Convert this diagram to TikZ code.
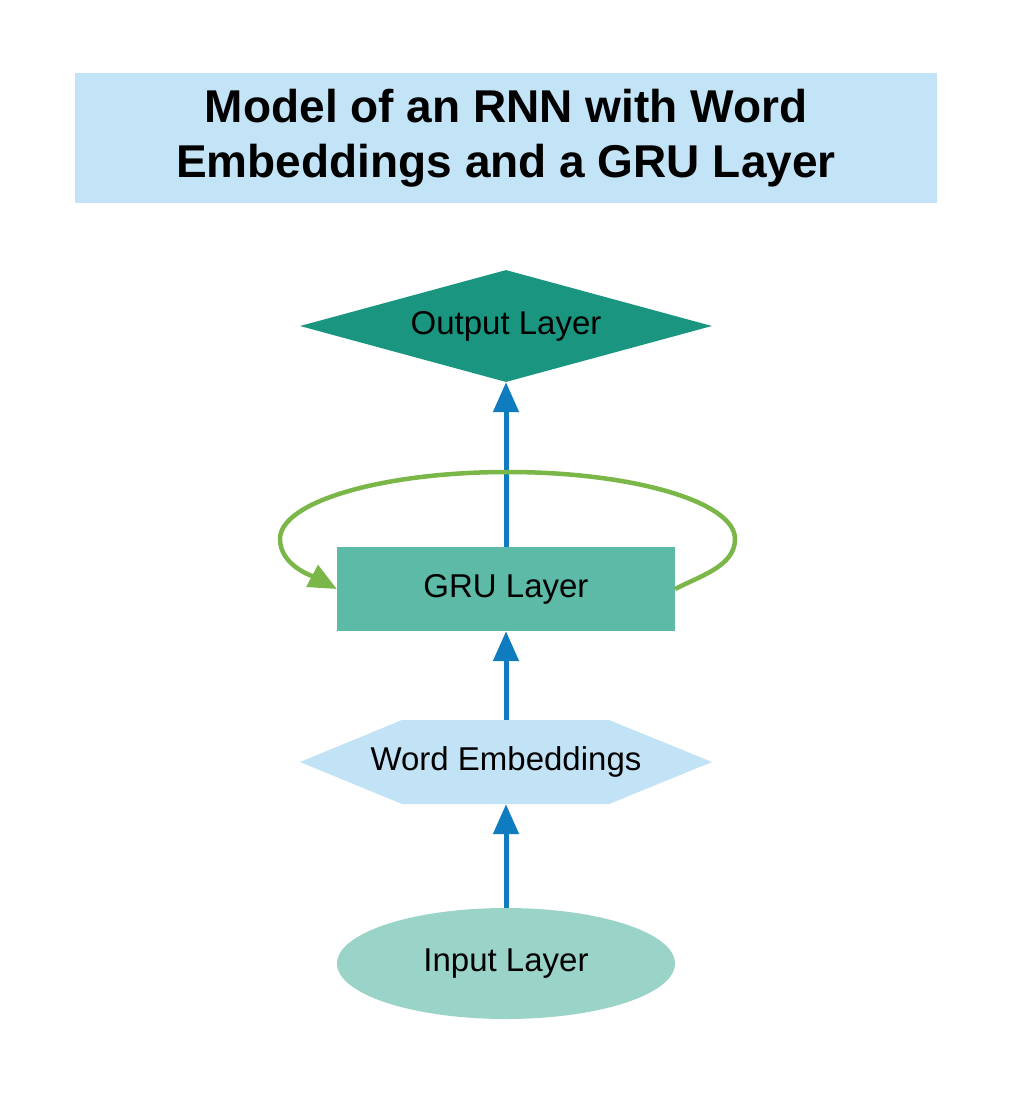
\documentclass[tikz,border=0pt]{standalone}
\usepackage{fontspec}
\setmainfont{Liberation Sans}
\usetikzlibrary{arrows.meta,shapes.geometric}
\definecolor{titlebg}{HTML}{C3E4F6}
\definecolor{outcol}{HTML}{1A9680}
\definecolor{grucol}{HTML}{5CBAA7}
\definecolor{embcol}{HTML}{C2E3F5}
\definecolor{incol}{HTML}{9AD4C9}
\definecolor{bluearr}{HTML}{0F7CBF}
\definecolor{greenarr}{HTML}{7AB648}
\tikzset{
  nodetext/.style={font=\fontsize{33}{40}\selectfont, text=black, inner sep=0pt},
  flow/.style={draw=bluearr, line width=5pt, -{Triangle[length=30pt,width=25pt]}},
  loopline/.style={draw=greenarr, line width=4.5pt, -{Triangle[length=28pt,width=24pt]}},
}
\begin{document}
\begin{tikzpicture}[x=1pt,y=1pt]
\useasboundingbox (0,0) rectangle (1013,-1095);
\fill[white] (0,0) rectangle (1013,-1095);
% title
\node[fill=titlebg, minimum width=862pt, minimum height=130pt, inner sep=0pt,
      align=center, font=\fontsize{46}{55}\selectfont\bfseries] (title) at (506,-138)
  {Model of an RNN with Word\\Embeddings and a GRU Layer};
% output diamond
\node[nodetext, diamond, aspect=3.68, fill=outcol, minimum width=412pt, minimum height=112pt] (out) at (506,-326) {Output Layer};
% GRU rectangle
\node[nodetext, rectangle, fill=grucol, minimum width=338pt, minimum height=84pt] (gru) at (506,-589) {GRU Layer};
% hexagon
\fill[embcol] (300,-762) -- (402,-720) -- (609,-720) -- (712,-762) -- (609,-804) -- (402,-804) -- cycle;
\node[nodetext, rectangle, minimum width=412pt, minimum height=84pt] (emb) at (506,-762) {Word Embeddings};
% ellipse
\node[nodetext, ellipse, fill=incol, minimum width=338pt, minimum height=111pt] (inp) at (506,-963.5) {Input Layer};
% arrows
\draw[flow] (inp.north) -- (emb.south);
\draw[flow] (emb.north) -- (gru.south);
\draw[flow] (gru.north) -- (out.south);
% loop
\coordinate (rx) at (735,-539);
\draw[loopline] (gru.east) to[out=28,in=-90,looseness=0.9] (rx)
  arc[start angle=0,end angle=180,x radius=227.5,y radius=67]
  to[out=-90,in=152,looseness=0.9] (gru.west);
\end{tikzpicture}
\end{document}
